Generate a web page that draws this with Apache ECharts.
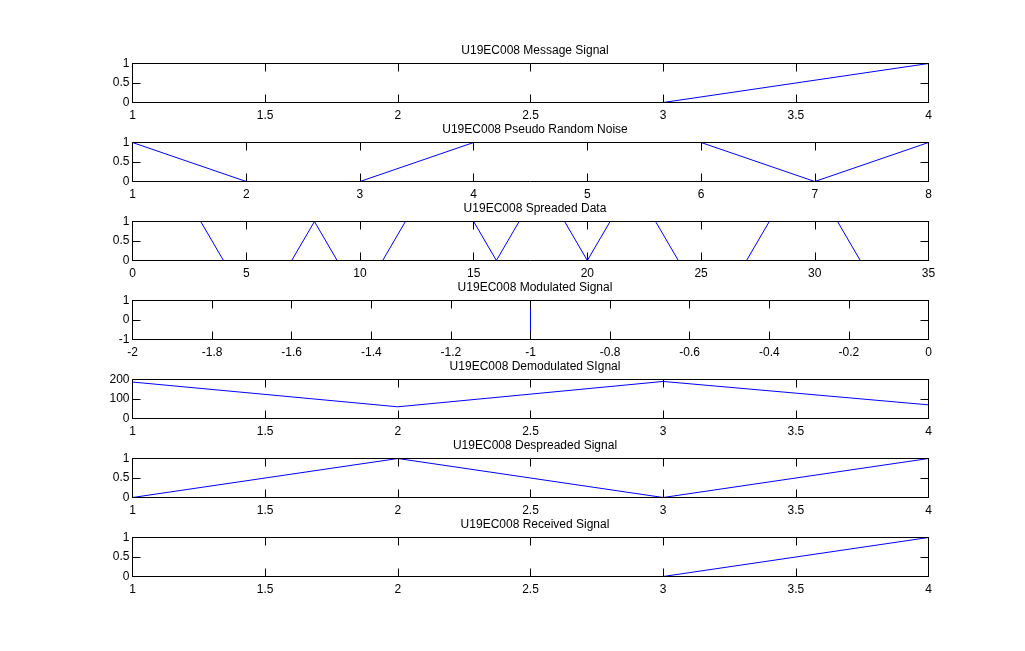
<!DOCTYPE html>
<html>
<head>
<meta charset="utf-8">
<script src="https://cdn.jsdelivr.net/npm/echarts@6/dist/echarts.min.js"></script>
<style>
html,body{margin:0;padding:0;background:#fff;}
#chart{width:1025px;height:651px;}
</style>
</head>
<body>
<div id="chart"></div>
<script>
// ---- data ----
const titles = [
  'U19EC008 Message Signal',
  'U19EC008 Pseudo Random Noise',
  'U19EC008 Spreaded Data',
  'U19EC008 Modulated Signal',
  'U19EC008 Demodulated SIgnal',
  'U19EC008 Despreaded Signal',
  'U19EC008 Received Signal'
];
const messageX = [1, 2, 3, 4];
const messageY = [0, 0, 0, 1];
const pnX = [1, 2, 3, 4, 5, 6, 7, 8];
const pnY = [1, 0, 0, 1, 1, 1, 0, 1];
const spreadX = [1,2,3,4,5,6,7,8,9,10,11,12,13,14,15,16,17,18,19,20,21,22,23,24,25,26,27,28,29,30,31,32];
const spreadY = [1,1,1,0,0,0,0,1,0,0,0,1,1,1,1,0,1,1,1,0,1,1,1,0,0,0,0,1,1,1,1,0];
const modX = [-1, -1];
const modY = [-1, 1];
const demodX = [1, 2, 3, 4];
const demodY = [187, 60, 190, 70];
const despreadX = [1, 2, 3, 4];
const despreadY = [0, 1, 0, 1];
const recvX = [1, 2, 3, 4];
const recvY = [0, 0, 0, 1];

// axis ranges / tick steps
const xRanges = [[1,4,0.5],[1,8,1],[0,35,5],[-2,0,0.2],[1,4,0.5],[1,4,0.5],[1,4,0.5]];
const yRanges = [[0,1,0.5],[0,1,0.5],[0,1,0.5],[-1,1,1],[0,200,100],[0,1,0.5],[0,1,0.5]];
const seriesX = [messageX, pnX, spreadX, modX, demodX, despreadX, recvX];
const seriesY = [messageY, pnY, spreadY, modY, demodY, despreadY, recvY];

// ---- layout ----
const FONT = '"Liberation Sans", Arial, sans-serif';
const gridLeft = 132.5, gridW = 796, gridH = 39, firstTop = 63.5, step = 79;

const grids = [], xAxes = [], yAxes = [], series = [], titleArr = [];
function fmt(v){ return String(Math.round(v*1000)/1000); }
for (let i = 0; i < 7; i++) {
  const top = firstTop + i*step;
  grids.push({left: gridLeft, width: gridW, top: top, height: gridH, show: false});
  const [xmin,xmax,xi] = xRanges[i];
  const [ymin,ymax,yi] = yRanges[i];
  const tick = {show: true, inside: true, length: 8, lineStyle: {color:'#000', width:1}};
  const line = {show:true, onZero:false, lineStyle:{color:'#000', width:1}};
  xAxes.push({type:'value', gridIndex:i, min:xmin, max:xmax, interval:xi, position:'bottom', z:5,
    axisLine:line, axisTick:tick, splitLine:{show:false},
    axisLabel:{show:true, color:'#000', fontFamily:FONT, fontSize:12, margin:7, formatter: fmt,
      showMinLabel:true, showMaxLabel:true}});
  xAxes.push({type:'value', gridIndex:i, min:xmin, max:xmax, interval:xi, position:'top', z:5,
    axisLine:line, axisTick:tick, splitLine:{show:false},
    axisLabel:{show:false}});
  yAxes.push({type:'value', gridIndex:i, min:ymin, max:ymax, interval:yi, position:'left', z:5,
    axisLine:line, axisTick:tick, splitLine:{show:false},
    axisLabel:{show:true, color:'#000', fontFamily:FONT, fontSize:12, margin:3, formatter: fmt,
      showMinLabel:true, showMaxLabel:true}});
  yAxes.push({type:'value', gridIndex:i, min:ymin, max:ymax, interval:yi, position:'right', z:5,
    axisLine:line, axisTick:tick, splitLine:{show:false},
    axisLabel:{show:false}});
  series.push({type:'line', xAxisIndex:2*i, yAxisIndex:2*i, symbol:'none', animation:false, z:2,
    lineStyle:{color:'#0000ff', width:1}, clip:true,
    data: seriesX[i].map((x,k)=>[x, seriesY[i][k]])});
  titleArr.push({text: titles[i], left: 530, top: Math.round(top) - 24, textAlign:'center',
    textStyle:{fontFamily:FONT, fontSize:12, fontWeight:'normal', color:'#000'}});
}

const chart = echarts.init(document.getElementById('chart'), null, {renderer:'canvas'});
chart.setOption({
  backgroundColor:'#fff',
  animation:false,
  title: titleArr,
  grid: grids,
  xAxis: xAxes,
  yAxis: yAxes,
  series: series
});
</script>
</body>
</html>
